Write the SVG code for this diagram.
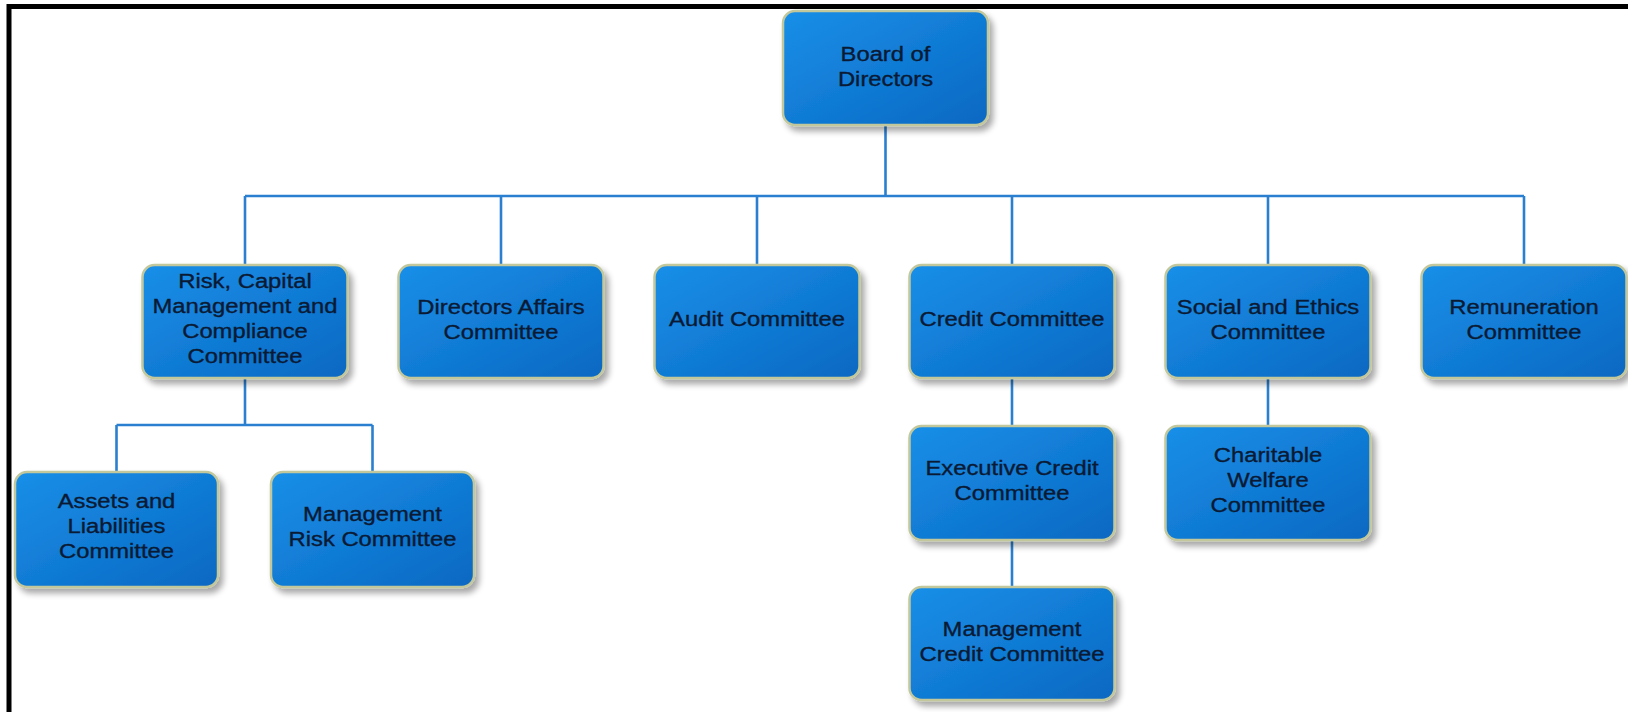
<svg xmlns="http://www.w3.org/2000/svg" width="1628" height="712" viewBox="0 0 1628 712">
<defs>
<linearGradient id="g" x1="0" y1="0" x2="1" y2="1">
<stop offset="0" stop-color="#1a8fe8"/>
<stop offset="1" stop-color="#0868c2"/>
</linearGradient>
<filter id="sh" x="-10%" y="-10%" width="125%" height="130%">
<feGaussianBlur in="SourceAlpha" stdDeviation="3"/>
<feOffset dx="4" dy="5" result="b"/>
<feComponentTransfer><feFuncA type="linear" slope="0.35"/></feComponentTransfer>
<feMerge><feMergeNode/><feMergeNode in="SourceGraphic"/></feMerge>
</filter>
</defs>
<style>
.box{fill:url(#g);stroke:#c3c89c;stroke-width:2.5;filter:url(#sh)}
.t{font-family:"Liberation Sans",Arial,sans-serif;font-size:20px;fill:#0a1a34;stroke:#0a1a34;stroke-width:0.35;text-anchor:middle}
.c{fill:none;stroke:#2a7fd0;stroke-width:2.6}
</style>
<rect width="1628" height="712" fill="#ffffff"/>
<path d="M9 712 V6.5 H1628" fill="none" stroke="#000" stroke-width="5"/>
<g id="connectors">
<path class="c" d="M885.5 125 V196 M245 196 H1524 M245 196 V265 M501 196 V265 M757 196 V265 M1012 196 V265 M1268 196 V265 M1524 196 V265"/>
<path class="c" d="M245 378 V425 M116.5 425 H372.5 M116.5 425 V472 M372.5 425 V472"/>
<path class="c" d="M1012 378 V426 M1012 540 V587 M1268 378 V426"/>
</g>
<g id="board"><rect class="box" x="783" y="11" width="205" height="114" rx="12"/>
<g transform="translate(885.5 0) scale(1.19 1)"><text class="t" x="0" y="61.5">Board of</text><text class="t" x="0" y="86.5">Directors</text></g></g>
<g id="risk"><rect class="box" x="142.5" y="265" width="205" height="113" rx="12"/>
<g transform="translate(245 0) scale(1.19 1)"><text class="t" x="0" y="288">Risk, Capital</text><text class="t" x="0" y="313">Management and</text><text class="t" x="0" y="338">Compliance</text><text class="t" x="0" y="363">Committee</text></g></g>
<g id="directors"><rect class="box" x="398.5" y="265" width="205" height="113" rx="12"/>
<g transform="translate(501 0) scale(1.19 1)"><text class="t" x="0" y="314">Directors Affairs</text><text class="t" x="0" y="339">Committee</text></g></g>
<g id="audit"><rect class="box" x="654.5" y="265" width="205" height="113" rx="12"/>
<g transform="translate(757 0) scale(1.19 1)"><text class="t" x="0" y="326.5">Audit Committee</text></g></g>
<g id="credit"><rect class="box" x="909.5" y="265" width="205" height="113" rx="12"/>
<g transform="translate(1012 0) scale(1.19 1)"><text class="t" x="0" y="326.5">Credit Committee</text></g></g>
<g id="social"><rect class="box" x="1165.5" y="265" width="205" height="113" rx="12"/>
<g transform="translate(1268 0) scale(1.19 1)"><text class="t" x="0" y="314">Social and Ethics</text><text class="t" x="0" y="339">Committee</text></g></g>
<g id="remuneration"><rect class="box" x="1421.5" y="265" width="205" height="113" rx="12"/>
<g transform="translate(1524 0) scale(1.19 1)"><text class="t" x="0" y="314">Remuneration</text><text class="t" x="0" y="339">Committee</text></g></g>
<g id="assets"><rect class="box" x="15" y="472" width="203" height="115" rx="12"/>
<g transform="translate(116.5 0) scale(1.19 1)"><text class="t" x="0" y="508">Assets and</text><text class="t" x="0" y="533">Liabilities</text><text class="t" x="0" y="558">Committee</text></g></g>
<g id="mgmtrisk"><rect class="box" x="271" y="472" width="203" height="115" rx="12"/>
<g transform="translate(372.5 0) scale(1.19 1)"><text class="t" x="0" y="521">Management</text><text class="t" x="0" y="546">Risk Committee</text></g></g>
<g id="execcredit"><rect class="box" x="909.5" y="426" width="205" height="114" rx="12"/>
<g transform="translate(1012 0) scale(1.19 1)"><text class="t" x="0" y="475">Executive Credit</text><text class="t" x="0" y="500">Committee</text></g></g>
<g id="charitable"><rect class="box" x="1165.5" y="426" width="205" height="114" rx="12"/>
<g transform="translate(1268 0) scale(1.19 1)"><text class="t" x="0" y="462">Charitable</text><text class="t" x="0" y="487">Welfare</text><text class="t" x="0" y="512">Committee</text></g></g>
<g id="mgmtcredit"><rect class="box" x="909.5" y="587" width="205" height="113" rx="12"/>
<g transform="translate(1012 0) scale(1.19 1)"><text class="t" x="0" y="636">Management</text><text class="t" x="0" y="661">Credit Committee</text></g></g>
</svg>
